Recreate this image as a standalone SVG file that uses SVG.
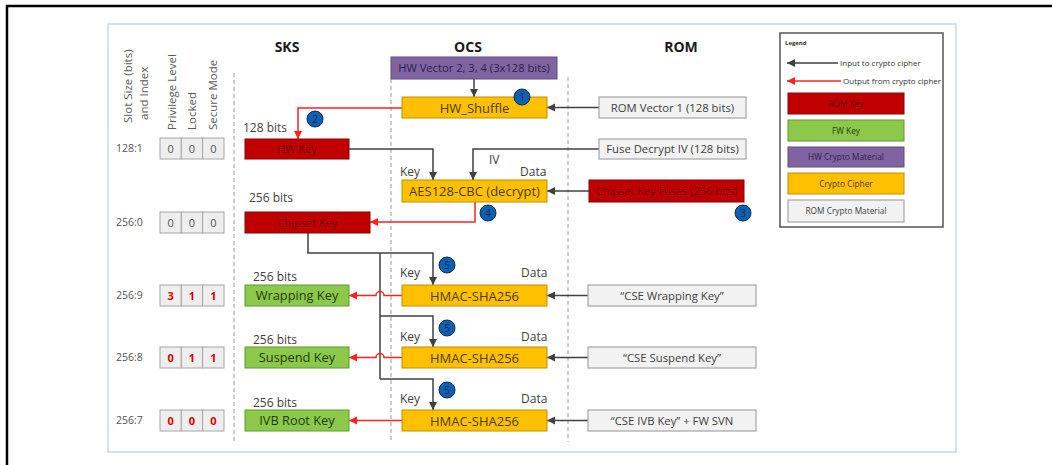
<svg xmlns="http://www.w3.org/2000/svg" width="1052" height="465" viewBox="0 0 1052 465">
<style>
text{font-family:"Open Sans","Noto Sans","DejaVu Sans",sans-serif;}
.hdr{font-size:14px;font-weight:bold;fill:#1a1a1a;text-anchor:middle;}
.rot{font-size:11.5px;fill:#595959;}
.row{font-size:10.5px;fill:#555;}
.cell{fill:#eeeeee;stroke:#a6a6a6;stroke-width:1;}
.cv{font-size:11px;fill:#555;text-anchor:middle;}
.cvr{font-size:11px;fill:#e00000;font-weight:bold;text-anchor:middle;}
.lbl{font-size:12px;fill:#404040;}
.red{fill:#c00000;stroke:#8b0000;stroke-width:1;}
.redt{font-size:11px;fill:#6b0000;text-anchor:middle;}
.grn{fill:#8cc94a;stroke:#5e9a30;stroke-width:1;}
.grnt{font-size:12.8px;fill:#1e3d0f;text-anchor:middle;}
.org{fill:#ffc000;stroke:#bf9000;stroke-width:1;}
.orgt{font-size:13px;fill:#4d3b00;text-anchor:middle;}
.pur{fill:#8064a2;stroke:#5f4a80;stroke-width:1;}
.purt{font-size:11.2px;fill:#2b1f4a;text-anchor:middle;}
.gry{fill:#f2f2f2;stroke:#a6a6a6;stroke-width:1.2;}
.gryt{font-size:11.3px;fill:#404040;text-anchor:middle;}
.num{fill:#1060b0;stroke:#0a2a5a;stroke-width:1;}
.numt{font-size:10px;fill:#0a2a5a;text-anchor:middle;}
.dash{stroke:#9a9a9a;stroke-width:1;stroke-dasharray:4 3;fill:none;}
.bl{stroke:#404040;stroke-width:1.5;fill:none;}
.rd{stroke:#ff2020;stroke-width:1.5;fill:none;}
.lgt{font-size:8px;fill:#333;}
.lgb{font-size:8.3px;text-anchor:middle;}
</style>
<defs>
<marker id="ab" markerUnits="userSpaceOnUse" markerWidth="9" markerHeight="9" refX="8" refY="4" orient="auto"><path d="M0,0 L8,4 L0,8 z" fill="#404040"/></marker>
<marker id="ar" markerUnits="userSpaceOnUse" markerWidth="9" markerHeight="9" refX="8" refY="4" orient="auto"><path d="M0,0 L8,4 L0,8 z" fill="#ff2020"/></marker>
</defs>
<rect width="1052" height="465" fill="#ffffff"/>
<path d="M7,470 V6 H1060" fill="none" stroke="#000" stroke-width="2.5"/>
<rect x="108" y="24" width="848" height="428" fill="#ffffff" stroke="#c8d6e6" stroke-width="1.5"/>

<g id="headers">
<text class="hdr" x="287" y="52">SKS</text>
<text class="hdr" x="468" y="52">OCS</text>
<text class="hdr" x="681" y="52">ROM</text>
<text class="rot" transform="translate(132,123) rotate(-90)">Slot Size (bits)</text>
<text class="rot" transform="translate(148,120) rotate(-90)">and Index</text>
<text class="rot" transform="translate(176,130) rotate(-90)">Privilege Level</text>
<text class="rot" transform="translate(196,130) rotate(-90)">Locked</text>
<text class="rot" transform="translate(217,130) rotate(-90)">Secure Mode</text>
</g>

<g id="dividers">
<line class="dash" x1="234" y1="73" x2="234" y2="442"/>
<line class="dash" x1="391" y1="79" x2="391" y2="442"/>
<line class="dash" x1="568" y1="77" x2="568" y2="442"/>
</g>

<g id="slots">
<g id="slot-128-1">
<text class="row" x="116" y="152">128:1</text>
<rect class="cell" x="160" y="138" width="21.3" height="21"/><rect class="cell" x="181.3" y="138" width="21.3" height="21"/><rect class="cell" x="202.6" y="138" width="21.4" height="21"/>
<text class="cv" x="170.6" y="153">0</text><text class="cv" x="192" y="153">0</text><text class="cv" x="213.3" y="153">0</text>
</g>
<g id="slot-256-0">
<text class="row" x="116" y="226">256:0</text>
<rect class="cell" x="160" y="212" width="21.3" height="21"/><rect class="cell" x="181.3" y="212" width="21.3" height="21"/><rect class="cell" x="202.6" y="212" width="21.4" height="21"/>
<text class="cv" x="170.6" y="227">0</text><text class="cv" x="192" y="227">0</text><text class="cv" x="213.3" y="227">0</text>
</g>
<g id="slot-256-9">
<text class="row" x="116" y="299">256:9</text>
<rect class="cell" x="160" y="285" width="21.3" height="21"/><rect class="cell" x="181.3" y="285" width="21.3" height="21"/><rect class="cell" x="202.6" y="285" width="21.4" height="21"/>
<text class="cvr" x="170.6" y="300">3</text><text class="cvr" x="192" y="300">1</text><text class="cvr" x="213.3" y="300">1</text>
</g>
<g id="slot-256-8">
<text class="row" x="116" y="361">256:8</text>
<rect class="cell" x="160" y="347" width="21.3" height="21"/><rect class="cell" x="181.3" y="347" width="21.3" height="21"/><rect class="cell" x="202.6" y="347" width="21.4" height="21"/>
<text class="cvr" x="170.6" y="362">0</text><text class="cvr" x="192" y="362">1</text><text class="cvr" x="213.3" y="362">1</text>
</g>
<g id="slot-256-7">
<text class="row" x="116" y="424">256:7</text>
<rect class="cell" x="160" y="410" width="21.3" height="21"/><rect class="cell" x="181.3" y="410" width="21.3" height="21"/><rect class="cell" x="202.6" y="410" width="21.4" height="21"/>
<text class="cvr" x="170.6" y="425">0</text><text class="cvr" x="192" y="425">0</text><text class="cvr" x="213.3" y="425">0</text>
</g>
</g>

<g id="connectors">
<line class="bl" x1="474" y1="79" x2="474" y2="97" marker-end="url(#ab)"/>
<line class="bl" x1="599" y1="107.5" x2="547" y2="107.5" marker-end="url(#ab)"/>
<path class="bl" d="M349,149 H433 V180" marker-end="url(#ab)"/>
<path class="bl" d="M599,149 H473 V180" marker-end="url(#ab)"/>
<line class="bl" x1="589" y1="191" x2="547" y2="191" marker-end="url(#ab)"/>
<path class="bl" d="M308,233 V253 H433 V285" marker-end="url(#ab)"/>
<path class="bl" d="M380,253 V379"/>
<path class="bl" d="M380,316 H433 V347" marker-end="url(#ab)"/>
<path class="bl" d="M380,379 H433 V410" marker-end="url(#ab)"/>
<line class="bl" x1="588" y1="295.5" x2="547" y2="295.5" marker-end="url(#ab)"/>
<line class="bl" x1="588" y1="357.5" x2="547" y2="357.5" marker-end="url(#ab)"/>
<line class="bl" x1="588" y1="420.5" x2="547" y2="420.5" marker-end="url(#ab)"/>
<path class="rd" d="M402,108 H298 V139" marker-end="url(#ar)"/>
<path class="rd" d="M475,202 V222 H370" marker-end="url(#ar)"/>
<path class="rd" d="M402,295.5 H384 A4,4 0 0 0 376,295.5 H349" marker-end="url(#ar)"/>
<path class="rd" d="M402,357.5 H384 A4,4 0 0 0 376,357.5 H349" marker-end="url(#ar)"/>
<path class="rd" d="M402,420.5 H349" marker-end="url(#ar)"/>
</g>

<g id="port-labels">
<text class="lbl" x="243" y="132">128 bits</text>
<text class="lbl" x="249" y="202">256 bits</text>
<text class="lbl" x="253" y="281">256 bits</text>
<text class="lbl" x="253" y="344">256 bits</text>
<text class="lbl" x="253" y="407">256 bits</text>
<text class="lbl" x="400" y="176">Key</text>
<text class="lbl" x="489" y="164">IV</text>
<text class="lbl" x="520" y="176">Data</text>
<text class="lbl" x="400" y="277">Key</text>
<text class="lbl" x="521" y="277">Data</text>
<text class="lbl" x="400" y="341">Key</text>
<text class="lbl" x="521" y="341">Data</text>
<text class="lbl" x="400" y="403">Key</text>
<text class="lbl" x="521" y="403">Data</text>
</g>

<g id="hw-vector"><rect class="pur" x="391" y="57" width="166" height="22"/><text class="purt" x="474" y="72">HW Vector 2, 3, 4 (3x128 bits)</text></g>
<g id="hw-shuffle"><rect class="org" x="402" y="97" width="145" height="21"/><text class="orgt" x="474.5" y="112.5">HW_Shuffle</text></g>
<g id="rom-vector-1"><rect class="gry" x="599" y="97" width="147" height="21"/><text class="gryt" x="672.5" y="111.5">ROM Vector 1 (128 bits)</text></g>
<g id="hw-key"><rect class="red" x="245" y="139" width="104" height="20"/><text class="redt" x="297" y="153">HW Key</text></g>
<g id="fuse-decrypt-iv"><rect class="gry" x="599" y="139" width="147" height="20"/><text class="gryt" x="672.5" y="153">Fuse Decrypt IV (128 bits)</text></g>
<g id="aes128-cbc"><rect class="org" x="402" y="180" width="145" height="22"/><text class="orgt" x="474.5" y="195.5">AES128-CBC (decrypt)</text></g>
<g id="chipset-key-fuses"><rect class="red" x="589" y="180" width="155" height="22"/><text class="redt" x="666.5" y="195">Chipset Key Fuses (256 bits)</text></g>
<g id="chipset-key"><rect class="red" x="245" y="212" width="125" height="21"/><text class="redt" x="307.5" y="226.5">Chipset Key</text></g>
<g id="wrapping-key"><rect class="grn" x="245" y="285" width="104" height="21"/><text class="grnt" x="297" y="300">Wrapping Key</text></g>
<g id="suspend-key"><rect class="grn" x="245" y="347" width="104" height="21"/><text class="grnt" x="297" y="362">Suspend Key</text></g>
<g id="ivb-root-key"><rect class="grn" x="245" y="410" width="104" height="21"/><text class="grnt" x="297" y="425">IVB Root Key</text></g>
<g id="hmac-1"><rect class="org" x="402" y="285" width="145" height="21"/><text class="orgt" x="474.5" y="300.5">HMAC-SHA256</text></g>
<g id="hmac-2"><rect class="org" x="402" y="347" width="145" height="21"/><text class="orgt" x="474.5" y="362.5">HMAC-SHA256</text></g>
<g id="hmac-3"><rect class="org" x="402" y="410" width="145" height="21"/><text class="orgt" x="474.5" y="425.5">HMAC-SHA256</text></g>
<g id="cse-wrapping"><rect class="gry" x="588" y="285" width="168" height="21"/><text class="gryt" x="672" y="299.5">“CSE Wrapping Key”</text></g>
<g id="cse-suspend"><rect class="gry" x="588" y="347" width="168" height="21"/><text class="gryt" x="672" y="361.5">“CSE Suspend Key”</text></g>
<g id="cse-ivb"><rect class="gry" x="588" y="410" width="168" height="21"/><text class="gryt" x="672" y="424.5">“CSE IVB Key” + FW SVN</text></g>

<g id="steps">
<g id="step-1"><circle class="num" cx="522" cy="97" r="8"/><text class="numt" x="522" y="100.5">1</text></g>
<g id="step-2"><circle class="num" cx="315" cy="119" r="8"/><text class="numt" x="315" y="122.5">2</text></g>
<g id="step-3"><circle class="num" cx="743" cy="213" r="8"/><text class="numt" x="743" y="216.5">3</text></g>
<g id="step-4"><circle class="num" cx="488" cy="213" r="8"/><text class="numt" x="488" y="216.5">4</text></g>
<g id="step-5a"><circle class="num" cx="447" cy="265" r="8"/><text class="numt" x="447" y="268.5">5</text></g>
<g id="step-5b"><circle class="num" cx="447" cy="328" r="8"/><text class="numt" x="447" y="331.5">5</text></g>
<g id="step-5c"><circle class="num" cx="447" cy="390" r="8"/><text class="numt" x="447" y="393.5">5</text></g>
</g>

<g id="legend">
<rect x="780" y="33" width="163" height="194" fill="#ffffff" stroke="#555" stroke-width="1.5"/>
<text x="785" y="45" style="font-size:6px;font-weight:bold;fill:#333">Legend</text>
<line class="bl" x1="838" y1="63" x2="787" y2="63" marker-end="url(#ab)"/>
<text class="lgt" x="840" y="65.8">Input to crypto cipher</text>
<line class="rd" x1="841" y1="81" x2="787" y2="81" marker-end="url(#ar)"/>
<text class="lgt" x="843" y="83.8">Output from crypto cipher</text>
<g id="lg-rom-key"><rect class="red" x="788" y="93" width="116" height="21"/><text class="lgb" x="846" y="106.5" fill="#6b0000">ROM Key</text></g>
<g id="lg-fw-key"><rect class="grn" x="788" y="120" width="116" height="21"/><text class="lgb" x="846" y="133.5" fill="#1e3d0f">FW Key</text></g>
<g id="lg-hw-crypto"><rect class="pur" x="788" y="147" width="116" height="20"/><text class="lgb" x="846" y="160" fill="#2b1f4a">HW Crypto Material</text></g>
<g id="lg-cipher"><rect class="org" x="788" y="173" width="116" height="21"/><text class="lgb" x="846" y="186.5" fill="#4d3b00">Crypto Cipher</text></g>
<g id="lg-rom-crypto"><rect class="gry" x="788" y="200" width="116" height="22"/><text class="lgb" x="846" y="214" fill="#404040">ROM Crypto Material</text></g>
</g>
</svg>
